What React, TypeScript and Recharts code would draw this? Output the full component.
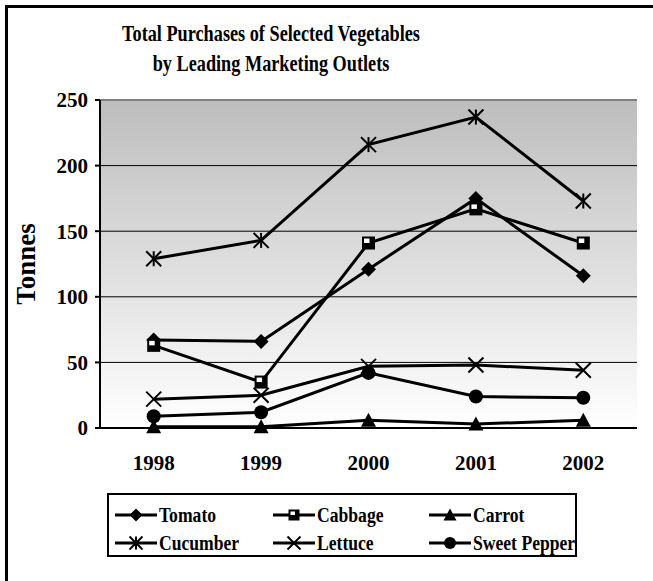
import {
  LineChart,
  Line,
  XAxis,
  YAxis,
  CartesianGrid,
  ReferenceLine,
} from "recharts";

const years = ["1998", "1999", "2000", "2001", "2002"];
const tomato = [67, 66, 121, 175, 116];
const cabbage = [63, 35, 141, 167, 141];
const carrot = [1, 1, 6, 3, 6];
const cucumber = [129, 143, 216, 237, 173];
const lettuce = [22, 25, 47, 48, 44];
const sweetPepper = [9, 12, 42, 24, 23];
const yTicks = [0, 50, 100, 150, 200, 250];
const bandEdges = [0, 1, 2, 3, 4, 5];

type Shape = "diamond" | "square" | "triangle" | "asterisk" | "cross" | "circle";

const series: { key: string; name: string; shape: Shape; values: number[] }[] = [
  { key: "tomato", name: "Tomato", shape: "diamond", values: tomato },
  { key: "cabbage", name: "Cabbage", shape: "square", values: cabbage },
  { key: "carrot", name: "Carrot", shape: "triangle", values: carrot },
  { key: "cucumber", name: "Cucumber", shape: "asterisk", values: cucumber },
  { key: "lettuce", name: "Lettuce", shape: "cross", values: lettuce },
  { key: "sweetPepper", name: "Sweet Pepper", shape: "circle", values: sweetPepper },
];

const data = years.map((year, i) => {
  const row: Record<string, string | number> = { year };
  series.forEach((s) => (row[s.key] = s.values[i]));
  return row;
});

const FONT = '"Liberation Serif", "Times New Roman", serif';

function Marker({ shape, cx, cy, r = 7.5 }: { shape: Shape; cx: number; cy: number; r?: number }) {
  if (cx == null || cy == null) return null;
  switch (shape) {
    case "diamond":
      return (
        <path
          d={`M${cx} ${cy - r}L${cx + r} ${cy}L${cx} ${cy + r}L${cx - r} ${cy}Z`}
          fill="#000"
        />
      );
    case "square":
      return (
        <g>
          <rect x={cx - r + 1} y={cy - r + 1} width={2 * r - 2} height={2 * r - 2} fill="#000" />
          <rect x={cx - r + 3} y={cy - r + 3} width={r - 2} height={r - 3} fill="#fff" />
        </g>
      );
    case "triangle":
      return (
        <path
          d={`M${cx} ${cy - r}L${cx + r} ${cy + r - 1}L${cx - r} ${cy + r - 1}Z`}
          fill="#000"
        />
      );
    case "asterisk":
      return (
        <g stroke="#000" strokeWidth={2}>
          <line x1={cx - r} y1={cy - r} x2={cx + r} y2={cy + r} />
          <line x1={cx - r} y1={cy + r} x2={cx + r} y2={cy - r} />
          <line x1={cx} y1={cy - r} x2={cx} y2={cy + r} />
        </g>
      );
    case "cross":
      return (
        <g stroke="#000" strokeWidth={2}>
          <line x1={cx - r} y1={cy - r} x2={cx + r} y2={cy + r} />
          <line x1={cx - r} y1={cy + r} x2={cx + r} y2={cy - r} />
        </g>
      );
    case "circle":
      return <circle cx={cx} cy={cy} r={r - 0.5} fill="#000" />;
  }
  return null;
}

function LegendBox() {
  const widths = [158, 156, 146];
  const rows = [series.slice(0, 3), series.slice(3, 6)];
  return (
    <div
      style={{
        position: "absolute",
        left: 107,
        top: 493,
        width: 470,
        height: 64,
        boxSizing: "border-box",
        border: "2px solid #000",
        background: "#fff",
        paddingTop: 6,
        paddingLeft: 6,
      }}
    >
      {rows.map((row, ri) => (
        <div key={ri} style={{ display: "flex", height: 28, alignItems: "center" }}>
          {row.map((s, ci) => (
            <div key={s.key} style={{ display: "flex", alignItems: "center", width: widths[ci] }}>
              <svg width={42} height={20} style={{ flex: "none" }}>
                <line x1={0} y1={10} x2={42} y2={10} stroke="#000" strokeWidth={3} />
                <Marker shape={s.shape} cx={21} cy={10} r={6.5} />
              </svg>
              <span
                style={{
                  fontFamily: FONT,
                  fontWeight: "bold",
                  fontSize: 20,
                  lineHeight: 1,
                  marginLeft: 2,
                  whiteSpace: "nowrap",
                  display: "inline-block",
                  transform: "scaleX(0.88)",
                  transformOrigin: "left center",
                }}
              >
                {s.name}
              </span>
            </div>
          ))}
        </div>
      ))}
    </div>
  );
}

export default function App() {
  return (
    <div
      style={{
        position: "fixed",
        left: 0,
        top: 0,
        width: 653,
        height: 581,
        overflow: "hidden",
        background: "#fff",
        fontFamily: FONT,
      }}
    >
      <div
        style={{
          position: "absolute",
          left: 5,
          top: 5,
          width: 900,
          height: 900,
          border: "3px solid #000",
        }}
      />
      <div
        style={{
          position: "absolute",
          left: 0,
          top: 18,
          width: 542,
          textAlign: "center",
          fontWeight: "bold",
          fontSize: 24,
          lineHeight: "30px",
          transform: "scaleX(0.76)",
          transformOrigin: "center",
        }}
      >
        Total Purchases of Selected Vegetables
        <br />
        by Leading Marketing Outlets
      </div>
      <div style={{ position: "absolute", left: 0, top: 0 }}>
        <LineChart
          width={653}
          height={581}
          data={data}
          margin={{ top: 100, right: 16, bottom: 113, left: 0 }}
        >
          <defs>
            <linearGradient id="plotBg" x1="0" y1="0" x2="0" y2="1">
              <stop offset="0%" stopColor="#bdbdbd" />
              <stop offset="100%" stopColor="#ffffff" />
            </linearGradient>
          </defs>
          <CartesianGrid
            vertical={false}
            stroke="#000"
            strokeWidth={1}
            fill="url(#plotBg)"
            fillOpacity={1}
          />
          <XAxis
            xAxisId="edges"
            type="number"
            domain={[0, 5]}
            ticks={bandEdges}
            height={0}
            tick={false}
            axisLine={false}
            tickLine={{ stroke: "#000", strokeWidth: 2 }}
            tickSize={6}
          />
          <XAxis
            dataKey="year"
            scale="band"
            height={40}
            tickSize={0}
            tickMargin={27}
            tickLine={false}
            axisLine={{ stroke: "#000", strokeWidth: 2 }}
            tick={{ fill: "#000", fontSize: 21, fontWeight: "bold", fontFamily: FONT }}
          />
          <YAxis
            domain={[0, 250]}
            ticks={yTicks}
            width={100}
            tickSize={5}
            tickMargin={7}
            axisLine={{ stroke: "#000", strokeWidth: 2 }}
            tickLine={{ stroke: "#000", strokeWidth: 2 }}
            tick={{ fill: "#000", fontSize: 21, fontWeight: "bold", fontFamily: FONT }}
            label={{
              content: (props: any) => {
                const vb = props.viewBox || {};
                const x = (vb.x ?? 0) + 26;
                const y = (vb.y ?? 0) + (vb.height ?? 0) / 2;
                return (
                  <text
                    x={x}
                    y={y}
                    transform={`rotate(-90 ${x} ${y})`}
                    textAnchor="middle"
                    dominantBaseline="central"
                    fontSize={27}
                    fontWeight="bold"
                    fontFamily={FONT}
                    fill="#000"
                  >
                    Tonnes
                  </text>
                );
              },
            }}
          />
          <YAxis
            yAxisId="r"
            orientation="right"
            width={0}
            tick={false}
            tickLine={false}
            axisLine={{ stroke: "#808080", strokeWidth: 2 }}
          />
          <ReferenceLine y={250} stroke="#808080" strokeWidth={2} />
          {series.map((s) => (
            <Line
              key={s.key}
              dataKey={s.key}
              name={s.name}
              stroke="#000"
              strokeWidth={3}
              isAnimationActive={false}
              activeDot={false}
              dot={(p: any) => (
                <Marker key={`${s.key}-${p.index}`} shape={s.shape} cx={p.cx} cy={p.cy} />
              )}
            />
          ))}
        </LineChart>
      </div>
      <LegendBox />
    </div>
  );
}
